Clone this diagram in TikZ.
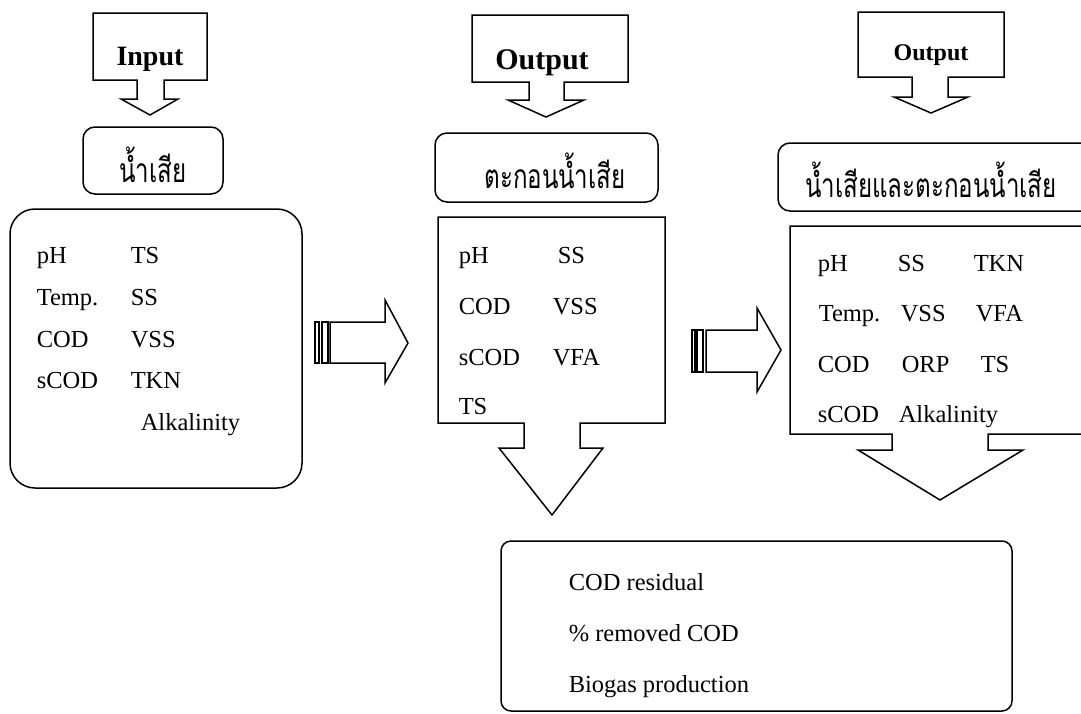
\documentclass[tikz,border=0pt]{standalone}
\usepackage{fontspec}
\setmainfont{Liberation Serif}
\newfontfamily\thaifont[Script=Thai]{Loma}
% Thai labels: a slightly tall, narrow setting of the looped Thai face
\newcommand{\thaitext}[1]{\scalebox{0.86}[1.2]{\thaifont\fontsize{28}{34}\selectfont #1}}
\begin{document}
\begin{tikzpicture}[x=1pt,y=-1pt,
  line width=1.5pt, line join=miter,
  lbl/.style={anchor=base west, inner sep=0pt, font=\fontsize{24.5}{28}\selectfont},
  headlbl/.style={anchor=base, inner sep=0pt, font=\fontsize{28}{32}\selectfont\bfseries},
  thailbl/.style={anchor=base, inner sep=0pt},
  rbox/.style={draw, rounded corners=12pt}]
\useasboundingbox (0,0) rectangle (1081,713);
\clip (0,0) rectangle (1081,713);

% ---- top callouts pointing down ----
\draw (93,13) -- (207,13) -- (207,80) -- (164,80) -- (164,99) -- (178,99)
  -- (150,115) -- (121,99) -- (137,99) -- (137,80) -- (93,80) -- cycle;
\node[headlbl] (in) at (150,65) {Input};

\draw (472,15) -- (628,15) -- (628,82) -- (564,82) -- (564,100) -- (584,100)
  -- (546,117) -- (508,100) -- (529,100) -- (529,82) -- (472,82) -- cycle;
\node[headlbl, font=\fontsize{30}{34}\selectfont\bfseries] (out1) at (542,69) {Output};

\draw (858,12) -- (1004,12) -- (1004,77) -- (948,77) -- (948,97) -- (968,97)
  -- (931,113) -- (894,97) -- (912,97) -- (912,77) -- (858,77) -- cycle;
\node[headlbl, font=\fontsize{24}{28}\selectfont\bfseries] (out2) at (931,60) {Output};

% ---- sample labels ----
\draw[rbox] (83,127) rectangle (223,194);
\node[thailbl] (t1) at (153,182) {\thaitext{น้ำเสีย}};
\draw[rbox] (435,133) rectangle (658,202);
\node[thailbl] (t2) at (555,188) {\thaitext{ตะกอนน้ำเสีย}};
\draw[rbox] (778,143) rectangle (1100,211);
\node[thailbl] (t3) at (931,197) {\thaitext{น้ำเสียและตะกอนน้ำเสีย}};

% ---- input parameters ----
\draw[rounded corners=25pt] (10,209) rectangle (302,488);
\node[lbl] (a1) at (36,263) {pH};
\node[lbl] (a2) at (36,305) {Temp.};
\node[lbl] (a3) at (36,347) {COD};
\node[lbl] (a4) at (36,388) {sCOD};
\node[lbl] (b1) at (130,263) {TS};
\node[lbl] (b2) at (130,305) {SS};
\node[lbl] (b3) at (130,347) {VSS};
\node[lbl] (b4) at (130,388) {TKN};
\node[lbl] (b5) at (140,430) {Alkalinity};

% ---- striped arrow 1 ----
\draw[line width=1.2pt] (315,322) rectangle (319,363);
\draw[line width=1.2pt] (322,322) rectangle (328,363);
\draw (330,322) -- (385,322) -- (385,300) -- (408,343) -- (385,383)
  -- (385,363) -- (330,363) -- cycle;

% ---- sludge callout ----
\draw (438,217) -- (665,217) -- (665,423) -- (580,423) -- (580,448) -- (603,448)
  -- (552,515) -- (499,448) -- (524,448) -- (524,423) -- (438,423) -- cycle;
\node[lbl] (c1) at (458,263) {pH};
\node[lbl] (c2) at (458,314) {COD};
\node[lbl] (c3) at (458,365) {sCOD};
\node[lbl] (c4) at (458,414) {TS};
\node[lbl] (d1) at (557,263) {SS};
\node[lbl] (d2) at (552,314) {VSS};
\node[lbl] (d3) at (552,365) {VFA};

% ---- striped arrow 2 ----
\draw[line width=1.2pt] (692,330) rectangle (695,372);
\draw[line width=1.2pt] (697,330) rectangle (703,372);
\draw (706,330) -- (757,330) -- (757,308) -- (781,350) -- (757,392)
  -- (757,372) -- (706,372) -- cycle;

% ---- combined callout ----
\draw (1100,226) -- (790,226) -- (790,434) -- (892,434) -- (892,450) -- (858,450)
  -- (940,500) -- (1023,450) -- (988,450) -- (988,434) -- (1100,434);
\node[lbl] (e1) at (817,271) {pH};
\node[lbl] (e2) at (818,321) {Temp.};
\node[lbl] (e3) at (817,372) {COD};
\node[lbl] (e4) at (817,422) {sCOD};
\node[lbl] (f1) at (897,271) {SS};
\node[lbl] (f2) at (900,321) {VSS};
\node[lbl] (f3) at (901,372) {ORP};
\node[lbl] (f4) at (898,422) {Alkalinity};
\node[lbl] (g1) at (973,271) {TKN};
\node[lbl] (g2) at (975,321) {VFA};
\node[lbl] (g3) at (980,372) {TS};

% ---- results ----
\draw[rounded corners=10pt] (501,541) rectangle (1012,711);
\node[lbl] (r1) at (568,590) {COD residual};
\node[lbl] (r2) at (568,641) {\% removed COD};
\node[lbl] (r3) at (568,692) {Biogas production};
\end{tikzpicture}
\end{document}
